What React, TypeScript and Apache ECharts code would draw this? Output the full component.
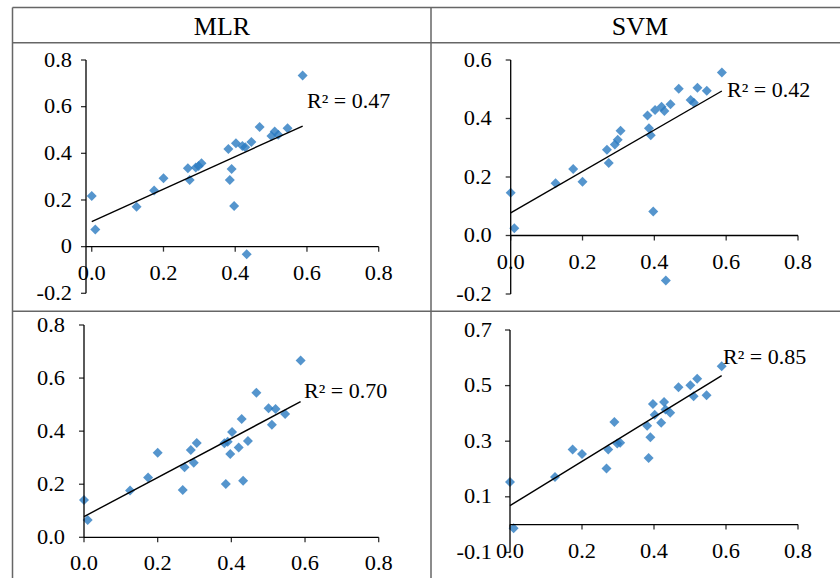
import React, { useEffect, useRef } from "react";
import * as echarts from "echarts";

// observed values (shared x for all four panels)
const xObs = [0, 0.01, 0.125, 0.174, 0.2, 0.268, 0.273, 0.29, 0.298, 0.306, 0.381, 0.385, 0.39, 0.397, 0.402, 0.42, 0.428, 0.432, 0.445, 0.468, 0.501, 0.51, 0.52, 0.546, 0.588];

// predicted values per panel
const mlrTop = [0.217, 0.074, 0.171, 0.241, 0.293, 0.336, 0.286, 0.339, 0.346, 0.357, 0.419, 0.286, 0.333, 0.174, 0.443, 0.431, 0.426, -0.033, 0.449, 0.513, 0.474, 0.493, 0.48, 0.507, 0.734];
const svmTop = [0.146, 0.025, 0.179, 0.227, 0.184, 0.293, 0.248, 0.311, 0.327, 0.358, 0.41, 0.367, 0.343, 0.082, 0.429, 0.44, 0.426, -0.154, 0.449, 0.502, 0.463, 0.454, 0.505, 0.495, 0.557];
const mlrBottom = [0.141, 0.065, 0.176, 0.225, 0.319, 0.178, 0.264, 0.329, 0.281, 0.355, 0.354, 0.201, 0.36, 0.314, 0.397, 0.338, 0.446, 0.213, 0.363, 0.545, 0.486, 0.424, 0.483, 0.465, 0.666];
const svmBottom = [0.153, -0.013, 0.171, 0.27, 0.254, 0.202, 0.27, 0.369, 0.292, 0.294, 0.356, 0.24, 0.314, 0.434, 0.395, 0.366, 0.441, 0.414, 0.402, 0.494, 0.501, 0.462, 0.525, 0.465, 0.57];

// trend line end points
const trendX = [0, 0.588];
const trendMlrTop = [0.107, 0.517];
const trendSvmTop = [0.077, 0.494];
const trendMlrBottom = [0.078, 0.511];
const trendSvmBottom = [0.068, 0.536];

// tick values and labels
const xTicks = [0, 0.2, 0.4, 0.6, 0.8];
const xTickLabels = ["0.0", "0.2", "0.4", "0.6", "0.8"];
const yTicksMlrTop = [-0.2, 0, 0.2, 0.4, 0.6, 0.8];
const yLabelsMlrTop = ["-0.2", "0", "0.2", "0.4", "0.6", "0.8"];
const yTicksSvmTop = [-0.2, 0, 0.2, 0.4, 0.6];
const yLabelsSvmTop = ["-0.2", "0.0", "0.2", "0.4", "0.6"];
const yTicksMlrBottom = [0, 0.2, 0.4, 0.6, 0.8];
const yLabelsMlrBottom = ["0.0", "0.2", "0.4", "0.6", "0.8"];
const yTicksSvmBottom = [-0.1, 0.1, 0.3, 0.5, 0.7];
const yLabelsSvmBottom = ["-0.1", "0.1", "0.3", "0.5", "0.7"];

const r2Labels = ["R² = 0.47", "R² = 0.42", "R² = 0.70", "R² = 0.85"];
const headers = ["MLR", "SVM"];

const FONT = '"Liberation Serif"';
const BLUE = "#2b7bc0";

export default function App() {
  const ref = useRef<HTMLDivElement>(null);
  useEffect(() => {
    if (!ref.current) return;
    const chart = echarts.init(ref.current, undefined, { renderer: "svg" });

    const panels = [
      { ys: mlrTop, trend: trendMlrTop, xMin: -0.016, yMin: -0.2, yMax: 0.8, yTicks: yTicksMlrTop, yLabels: yLabelsMlrTop, grid: { left: 86, top: 60, width: 292.7, height: 233.3 }, gap: 14, r2: [307, 101] },
      { ys: svmTop, trend: trendSvmTop, xMin: 0, yMin: -0.2, yMax: 0.6, yTicks: yTicksSvmTop, yLabels: yLabelsSvmTop, grid: { left: 510.7, top: 60, width: 287.3, height: 234 }, gap: 19, r2: [727, 90] },
      { ys: mlrBottom, trend: trendMlrBottom, xMin: 0, yMin: 0, yMax: 0.8, yTicks: yTicksMlrBottom, yLabels: yLabelsMlrBottom, grid: { left: 84, top: 325, width: 294.7, height: 212.3 }, gap: 19, r2: [304, 391] },
      { ys: svmBottom, trend: trendSvmBottom, xMin: 0, yMin: -0.1, yMax: 0.7, yTicks: yTicksSvmBottom, yLabels: yLabelsSvmBottom, grid: { left: 510, top: 330, width: 288, height: 222.4 }, gap: 18, r2: [723, 357] },
    ];

    const series: any[] = [];
    panels.forEach((p, g) => {
      const xAxisY = p.yMin < 0 ? 0 : p.yMin;
      // x axis line
      series.push({
        type: "line",
        xAxisIndex: g,
        yAxisIndex: g,
        data: [
          [p.xMin, xAxisY],
          [0.8, xAxisY],
        ],
        symbol: "none",
        clip: false,
        silent: true,
        lineStyle: { color: "#000", width: 1.3 },
      });
      // y axis line
      series.push({
        type: "line",
        xAxisIndex: g,
        yAxisIndex: g,
        data: [
          [p.xMin, p.yMin],
          [p.xMin, p.yMax],
        ],
        symbol: "none",
        clip: false,
        silent: true,
        lineStyle: { color: "#000", width: 1.3 },
      });
      // x ticks
      series.push({
        type: "scatter",
        xAxisIndex: g,
        yAxisIndex: g,
        data: xTicks.map((t) => [t, xAxisY]),
        symbol: "rect",
        symbolSize: [1.3, 5],
        symbolOffset: [0, 2.5],
        clip: false,
        silent: true,
        itemStyle: { color: "#000" },
      });
      // y ticks
      series.push({
        type: "scatter",
        xAxisIndex: g,
        yAxisIndex: g,
        data: p.yTicks.map((t) => [p.xMin, t]),
        symbol: "rect",
        symbolSize: [5, 1.3],
        symbolOffset: [-2.5, 0],
        clip: false,
        silent: true,
        itemStyle: { color: "#000" },
      });
      // trend line
      series.push({
        type: "line",
        xAxisIndex: g,
        yAxisIndex: g,
        data: trendX.map((x, i) => [x, p.trend[i]]),
        symbol: "none",
        silent: true,
        lineStyle: { color: "#000", width: 1.4 },
      });
      // points
      series.push({
        type: "scatter",
        xAxisIndex: g,
        yAxisIndex: g,
        data: xObs.map((x, i) => [x, p.ys[i]]),
        symbol: "diamond",
        symbolSize: 10,
        clip: false,
        itemStyle: { color: BLUE },
      });
    });

    chart.setOption({
      animation: false,
      backgroundColor: "#fff",
      grid: panels.map((p) => p.grid),
      xAxis: panels.map((p, g) => ({ type: "value", gridIndex: g, min: p.xMin, max: 0.8, show: false })),
      yAxis: panels.map((p, g) => ({ type: "value", gridIndex: g, min: p.yMin, max: p.yMax, show: false })),
      series,
    });

    const tickFont = `20px ${FONT}`;
    const graphic: any[] = [];

    panels.forEach((p, g) => {
      const px = (pt: number[]) => chart.convertToPixel({ gridIndex: g } as any, pt) as number[];
      const xAxisY = p.yMin < 0 ? 0 : p.yMin;
      xTicks.forEach((t, i) => {
        const q = px([t, xAxisY]);
        graphic.push({
          type: "text",
          silent: true,
          x: q[0],
          y: q[1] + 26.5,
          scaleX: 1.12,
          style: { text: xTickLabels[i], font: tickFont, fill: "#000", textAlign: "center", textVerticalAlign: "middle" },
        });
      });
      p.yTicks.forEach((t, i) => {
        const q = px([p.xMin, t]);
        graphic.push({
          type: "text",
          silent: true,
          x: q[0] - p.gap,
          y: q[1],
          scaleX: 1.12,
          style: { text: p.yLabels[i], font: tickFont, fill: "#000", textAlign: "right", textVerticalAlign: "middle" },
        });
      });
      graphic.push({
        type: "text",
        silent: true,
        x: p.r2[0],
        y: p.r2[1],
        z: 10,
        scaleX: 1.1,
        style: { text: r2Labels[g], font: `20px ${FONT}`, fill: "#000", textAlign: "left", textVerticalAlign: "middle" },
      });
    });

    const border = { stroke: "#666", lineWidth: 1.5 };
    graphic.push(
      { type: "line", silent: true, shape: { x1: 12.5, y1: 7.5, x2: 840, y2: 7.5 }, style: { ...border } },
      { type: "line", silent: true, shape: { x1: 12.5, y1: 7.5, x2: 12.5, y2: 578 }, style: { ...border } },
      { type: "line", silent: true, shape: { x1: 12.5, y1: 42.7, x2: 840, y2: 42.7 }, style: { ...border } },
      { type: "line", silent: true, shape: { x1: 431, y1: 7.5, x2: 431, y2: 578 }, style: { ...border } },
      { type: "line", silent: true, shape: { x1: 12.5, y1: 311.3, x2: 840, y2: 311.3 }, style: { ...border } },
      {
        type: "text",
        silent: true,
        x: 222,
        y: 26,
        style: { text: headers[0], font: `26px ${FONT}`, fill: "#000", textAlign: "center", textVerticalAlign: "middle" },
      },
      {
        type: "text",
        silent: true,
        x: 640,
        y: 26,
        style: { text: headers[1], font: `26px ${FONT}`, fill: "#000", textAlign: "center", textVerticalAlign: "middle" },
      }
    );

    chart.setOption({ graphic });
    return () => chart.dispose();
  }, []);

  return (
    <div
      ref={ref}
      style={{ position: "absolute", left: 0, top: 0, width: 840, height: 578, background: "#fff" }}
    />
  );
}
